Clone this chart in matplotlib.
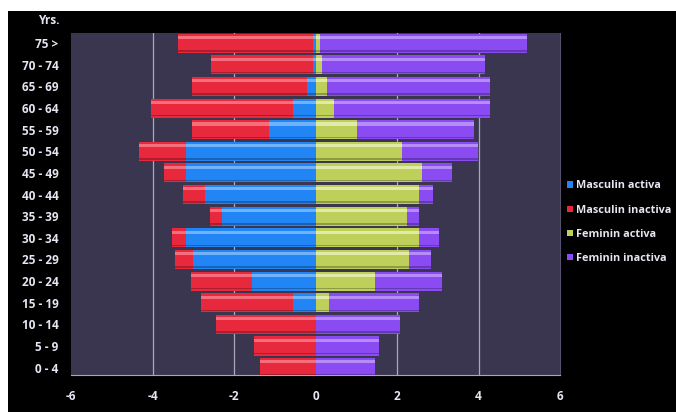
import numpy as np
import matplotlib.pyplot as plt
from matplotlib.patches import Rectangle

# age groups, bottom to top
ages = ["0 - 4", "5 - 9", "10 - 14", "15 - 19", "20 - 24", "25 - 29", "30 - 34",
        "35 - 39", "40 - 44", "45 - 49", "50 - 54", "55 - 59", "60 - 64",
        "65 - 69", "70 - 74", "75 >"]
male_active = [0, 0, 0, 0.54, 1.55, 3.0, 3.19, 2.29, 2.70, 3.19, 3.19, 1.15,
               0.54, 0.22, 0.05, 0.05]
male_inactive = [1.35, 1.5, 2.43, 2.28, 1.51, 0.46, 0.34, 0.31, 0.54, 0.53,
                 1.15, 1.89, 3.5, 2.82, 2.52, 3.33]
female_active = [0, 0, 0, 0.33, 1.45, 2.29, 2.53, 2.25, 2.53, 2.61, 2.12,
                 1.02, 0.45, 0.28, 0.15, 0.1]
female_inactive = [1.45, 1.57, 2.08, 2.22, 1.66, 0.55, 0.51, 0.28, 0.36, 0.74,
                   1.87, 2.88, 3.82, 3.99, 4.0, 5.1]
xticks = [-6, -4, -2, 0, 2, 4, 6]
labels = ["Masculin activa", "Masculin inactiva", "Feminin activa", "Feminin inactiva"]
colors = ["#2185f5", "#e8283c", "#bfd05a", "#8a4cf2"]
light = ["#a6d2ff", "#ff9ea8", "#fafce0", "#d4b8ff"]

plt.rcParams["font.family"] = ["Open Sans", "DejaVu Sans"]
txt = "#e6e6f2"

fig = plt.figure(figsize=(6.76, 4.12), dpi=100, facecolor="white")
# black card with thin white margin at top/left
fig.patches.append(Rectangle((8 / 676, 0), 1, 1 - 11 / 412, transform=fig.transFigure,
                             facecolor="black", edgecolor="none", zorder=-10))

ax = fig.add_axes([71 / 676, 1 - 375 / 412, 489 / 676, 342 / 412])
ax.set_facecolor("#3a3650")

y = np.arange(len(ages))
h = 0.88
ma = -np.array(male_active)
mi = -np.array(male_inactive)
fa = np.array(female_active)
fi = np.array(female_inactive)

segs = [(ma, 0), (mi, ma), (fa, 0), (fi, fa)]
for i, (w, left) in enumerate(segs):
    ax.barh(y, w, left=left, height=h, color=colors[i], label=labels[i], zorder=3,
            edgecolor="none")
    # glossy highlight band near the top of each bar
    ax.barh(y + h * 0.30, w, left=left, height=h * 0.16, color=light[i], alpha=0.6,
            zorder=4, edgecolor="none")
    # shadow at the bottom
    ax.barh(y - h * 0.40, w, left=left, height=h * 0.08, color="black", alpha=0.25,
            zorder=4, edgecolor="none")

ax.set_xlim(-6, 6)
ax.set_ylim(-0.34, 15.47)
ax.set_xticks(xticks)
ax.set_xticklabels([str(t) for t in xticks])
ax.set_yticks(y)
ax.set_yticklabels(ages)
for g in [-4, -2, 2, 4]:
    ax.axvline(g, color="#a8a8bc", lw=0.9, zorder=1)

ax.tick_params(axis="both", length=0, colors=txt, labelsize=8.5)
ax.tick_params(axis="x", pad=11)
ax.tick_params(axis="y", pad=9)
for lab in ax.get_xticklabels() + ax.get_yticklabels():
    lab.set_fontweight("bold")
for side in ["top", "left"]:
    ax.spines[side].set_visible(False)
ax.spines["bottom"].set_color("#a8a8bc")
ax.spines["right"].set_color("#55516c")

fig.text(60 / 676, 1 - 21 / 412, "Yrs.", color=txt, fontsize=8.5, fontweight="bold",
         ha="right", va="center")

handles, labs = ax.get_legend_handles_labels()
leg = fig.legend(handles, labs, loc="upper left", bbox_to_anchor=(563 / 676, 1 - 176 / 412),
                 frameon=False, fontsize=7.8, labelspacing=1.22, handlelength=0.5,
                 handleheight=0.5, handletextpad=0.3, borderaxespad=0)
for t in leg.get_texts():
    t.set_color(txt)
    t.set_fontweight("bold")

fig.savefig("out.png", dpi=100, facecolor=fig.get_facecolor())
